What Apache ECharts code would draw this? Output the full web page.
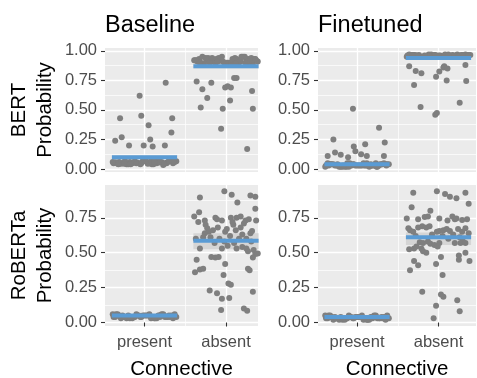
<!DOCTYPE html>
<html>
<head>
<meta charset="utf-8">
<script src="https://cdn.jsdelivr.net/npm/echarts@6/dist/echarts.min.js"></script>
<style>
html, body { margin: 0; padding: 0; background: #fff; }
#chart { width: 477px; height: 378px; }
</style>
</head>
<body>
<div id="chart"></div>
<script>
const connectives = ['present', 'absent'];
const conditions = ['Baseline', 'Finetuned'];
const models = ['BERT', 'RoBERTa'];
const yTicks = [0, 0.25, 0.5, 0.75, 1];
const yMinorTicks = [0.125, 0.375, 0.625, 0.875];
const xTicks = [1, 2];
const xMinorTicks = [1.5];

// means (blue bars) and interval bands, per connective
const bertBaseMean = [0.10, 0.87];
const bertFineMean = [0.04, 0.94];
const robertaBaseMean = [0.05, 0.585];
const robertaFineMean = [0.04, 0.61];
const bertBaseBand = [[0.085, 0.115], [0.85, 0.895]];
const bertFineBand = [[0.03, 0.05], [0.925, 0.955]];
const robertaBaseBand = [[0.045, 0.055], [0.525, 0.64]];
const robertaFineBand = [[0.035, 0.045], [0.555, 0.645]];

// jitter offsets for the tightly packed clusters
const clusterJitter = [-0.38, -0.31, -0.22, -0.35, -0.12, -0.27, -0.05, -0.18, 0.02, -0.33, 0.09, -0.09, 0.15, -0.24, 0.21, 0.04, 0.28, -0.15, 0.33, 0.11, 0.37, -0.02, 0.25, -0.29, 0.18, -0.36, 0.06, 0.31, -0.2, 0.13, 0.39, -0.07, 0.23, -0.13, 0.35, 0.0, -0.25, 0.17, -0.39, 0.27, 0.08, -0.32, 0.19, -0.1, 0.3, -0.17, 0.12, 0.36, -0.04, 0.24];

// cluster values
const bertBasePresentCluster = [0.05, 0.06, 0.04, 0.055, 0.065, 0.05, 0.04, 0.06, 0.065, 0.045, 0.04, 0.055, 0.05, 0.07, 0.06, 0.045, 0.055, 0.05, 0.065, 0.04, 0.06, 0.07, 0.05, 0.045, 0.065, 0.055, 0.05, 0.07, 0.04, 0.06, 0.065, 0.05, 0.035, 0.055, 0.05, 0.065, 0.045, 0.07, 0.06, 0.05, 0.065, 0.04, 0.055, 0.05, 0.07, 0.04, 0.06, 0.065, 0.05, 0.045];
const bertBaseAbsentCluster = [0.92, 0.90, 0.94, 0.91, 0.93, 0.89, 0.95, 0.92, 0.90, 0.93, 0.91, 0.94, 0.88, 0.92, 0.95, 0.90, 0.93, 0.91, 0.89, 0.94, 0.92, 0.90, 0.93, 0.95, 0.91, 0.92, 0.88, 0.94, 0.90, 0.93, 0.91, 0.92, 0.95, 0.89, 0.93, 0.90, 0.94, 0.91, 0.92, 0.88, 0.93, 0.90, 0.95, 0.91, 0.92, 0.94, 0.89, 0.93, 0.91, 0.90];
const bertFinePresentCluster = [0.03, 0.04, 0.02, 0.03, 0.05, 0.03, 0.04, 0.02, 0.03, 0.04, 0.03, 0.05, 0.02, 0.04, 0.03, 0.03, 0.04, 0.02, 0.05, 0.03, 0.04, 0.03, 0.02, 0.04, 0.03, 0.05, 0.03, 0.04, 0.02, 0.03, 0.04, 0.03, 0.05, 0.02, 0.04, 0.03, 0.03, 0.04, 0.02, 0.03, 0.05, 0.04, 0.03, 0.02, 0.04, 0.03, 0.05, 0.03, 0.04, 0.02];
const bertFineAbsentCluster = [0.96, 0.965, 0.95, 0.96, 0.97, 0.96, 0.965, 0.95, 0.96, 0.965, 0.955, 0.97, 0.95, 0.965, 0.96, 0.955, 0.965, 0.95, 0.97, 0.96, 0.965, 0.955, 0.95, 0.965, 0.96, 0.97, 0.955, 0.965, 0.95, 0.96, 0.965, 0.955, 0.97, 0.95, 0.965, 0.96, 0.955, 0.965, 0.95, 0.96, 0.97, 0.965, 0.955, 0.95, 0.965, 0.96, 0.97, 0.955, 0.965, 0.95];
const robertaBasePresentCluster = [0.04, 0.05, 0.03, 0.06, 0.04, 0.05, 0.04, 0.03, 0.05, 0.06, 0.04, 0.05, 0.03, 0.04, 0.06, 0.05, 0.04, 0.03, 0.05, 0.04, 0.06, 0.05, 0.04, 0.03, 0.05, 0.04, 0.06, 0.04, 0.05, 0.03, 0.04, 0.05, 0.06, 0.04, 0.03, 0.05, 0.04, 0.05, 0.06, 0.04, 0.03, 0.05, 0.04, 0.06, 0.05, 0.04, 0.03, 0.05, 0.04, 0.05];
const robertaFinePresentCluster = [0.03, 0.04, 0.02, 0.05, 0.03, 0.04, 0.03, 0.02, 0.04, 0.05, 0.03, 0.04, 0.02, 0.03, 0.05, 0.04, 0.03, 0.02, 0.04, 0.03, 0.05, 0.04, 0.03, 0.02, 0.04, 0.03, 0.05, 0.03, 0.04, 0.02, 0.03, 0.04, 0.05, 0.03, 0.02, 0.04, 0.03, 0.04, 0.05, 0.03, 0.02, 0.04, 0.03, 0.05, 0.04, 0.03, 0.02, 0.04, 0.03, 0.04];

// scattered points: [jitter offset, probability]
const bertBasePresentSpread = [[-0.30, 0.43], [-0.36, 0.24], [-0.28, 0.27], [-0.19, 0.20], [-0.06, 0.62], [-0.04, 0.45], [0.05, 0.37], [0.07, 0.25], [-0.01, 0.20], [0.10, 0.19], [0.26, 0.73], [0.34, 0.43], [0.33, 0.31], [0.25, 0.20]];
const bertBaseAbsentSpread = [[-0.36, 0.74], [-0.29, 0.675], [-0.23, 0.60], [-0.31, 0.52], [-0.18, 0.73], [-0.06, 0.34], [-0.04, 0.51], [0.05, 0.58], [-0.01, 0.69], [0.02, 0.70], [0.06, 0.69], [0.10, 0.77], [0.13, 0.77], [0.32, 0.66], [0.33, 0.51], [0.26, 0.17]];
const bertFinePresentSpread = [[-0.36, 0.11], [-0.29, 0.25], [-0.27, 0.14], [-0.20, 0.12], [-0.11, 0.10], [-0.05, 0.51], [-0.04, 0.19], [-0.02, 0.15], [0.05, 0.125], [0.10, 0.21], [0.12, 0.11], [0.27, 0.35], [0.34, 0.225], [0.33, 0.11]];
const bertFineAbsentSpread = [[-0.36, 0.87], [-0.28, 0.83], [-0.21, 0.81], [-0.30, 0.71], [-0.22, 0.525], [-0.03, 0.78], [0.01, 0.825], [0.06, 0.86], [0.07, 0.87], [0.11, 0.85], [0.10, 0.75], [-0.04, 0.46], [-0.02, 0.475], [0.26, 0.56], [0.33, 0.88], [0.34, 0.745]];
const robertaBaseAbsentSpread = [[-0.32, 0.895], [-0.02, 0.94], [0.07, 0.915], [0.14, 0.86], [-0.39, 0.76], [-0.33, 0.79], [-0.34, 0.72], [-0.26, 0.73], [-0.25, 0.70], [-0.23, 0.675], [-0.21, 0.65], [-0.26, 0.64], [-0.13, 0.75], [-0.11, 0.74], [-0.16, 0.66], [-0.19, 0.61], [-0.37, 0.60], [-0.28, 0.61], [-0.32, 0.53], [-0.05, 0.53], [-0.36, 0.45], [-0.18, 0.47], [-0.13, 0.465], [-0.09, 0.47], [-0.01, 0.42], [-0.38, 0.36], [-0.32, 0.38], [-0.28, 0.385], [-0.03, 0.34], [0.03, 0.28], [0.06, 0.27], [-0.20, 0.23], [-0.11, 0.21], [-0.05, 0.17], [0.04, 0.175], [-0.06, 0.09], [-0.01, 0.65], [0.01, 0.67], [0.06, 0.75], [0.13, 0.75], [0.09, 0.70], [0.13, 0.53], [0.18, 0.76], [0.22, 0.71], [0.24, 0.73], [0.28, 0.74], [0.30, 0.64], [0.32, 0.655], [0.20, 0.54], [0.25, 0.53], [0.27, 0.51], [0.34, 0.52], [0.36, 0.49], [0.33, 0.465], [0.39, 0.495], [0.30, 0.91], [0.36, 0.90], [0.36, 0.815], [0.37, 0.73], [0.29, 0.375], [0.27, 0.385], [0.33, 0.22], [0.22, 0.10], [0.26, 0.085], [-0.08, 0.60], [-0.02, 0.58], [0.05, 0.62], [0.10, 0.57], [0.16, 0.60], [0.20, 0.63], [-0.14, 0.57], [0.02, 0.55], [0.12, 0.66], [-0.10, 0.68], [0.18, 0.68], [0.08, 0.72], [-0.05, 0.73], [0.25, 0.60], [0.31, 0.58]];
const robertaFineAbsentSpread = [[-0.31, 0.93], [-0.02, 0.94], [0.08, 0.92], [0.14, 0.90], [0.22, 0.89], [0.33, 0.93], [0.37, 0.85], [-0.33, 0.825], [-0.10, 0.80], [-0.39, 0.745], [-0.25, 0.74], [-0.17, 0.755], [-0.13, 0.76], [0.01, 0.745], [0.11, 0.73], [0.17, 0.76], [0.20, 0.74], [0.22, 0.745], [0.29, 0.735], [0.35, 0.74], [-0.37, 0.675], [-0.35, 0.66], [-0.31, 0.65], [-0.25, 0.68], [-0.20, 0.69], [-0.15, 0.68], [-0.11, 0.69], [-0.02, 0.65], [0.01, 0.655], [0.06, 0.66], [0.10, 0.67], [0.14, 0.655], [0.24, 0.67], [0.29, 0.65], [0.33, 0.675], [0.37, 0.64], [-0.23, 0.575], [-0.19, 0.57], [-0.13, 0.58], [-0.10, 0.565], [-0.05, 0.555], [-0.01, 0.545], [0.01, 0.57], [-0.36, 0.525], [-0.30, 0.53], [-0.27, 0.545], [-0.21, 0.53], [-0.19, 0.51], [-0.15, 0.50], [0.03, 0.47], [-0.03, 0.42], [0.25, 0.48], [0.25, 0.45], [0.33, 0.50], [0.38, 0.44], [-0.30, 0.44], [-0.25, 0.41], [-0.35, 0.375], [0.05, 0.34], [-0.20, 0.22], [0.03, 0.20], [0.06, 0.185], [0.23, 0.16], [0.26, 0.08], [-0.03, 0.12], [-0.06, 0.03], [0.05, 0.62], [0.12, 0.60], [0.18, 0.63], [0.26, 0.61], [0.30, 0.58], [-0.28, 0.62], [-0.08, 0.63], [0.20, 0.57], [0.27, 0.57], [0.33, 0.57]];

const panels = [
    { row: 0, col: 0, mean: bertBaseMean, band: bertBaseBand,
      clusters: [bertBasePresentCluster, bertBaseAbsentCluster], spread: [bertBasePresentSpread, bertBaseAbsentSpread] },
    { row: 0, col: 1, mean: bertFineMean, band: bertFineBand,
      clusters: [bertFinePresentCluster, bertFineAbsentCluster], spread: [bertFinePresentSpread, bertFineAbsentSpread] },
    { row: 1, col: 0, mean: robertaBaseMean, band: robertaBaseBand,
      clusters: [robertaBasePresentCluster, []], spread: [[], robertaBaseAbsentSpread] },
    { row: 1, col: 1, mean: robertaFineMean, band: robertaFineBand,
      clusters: [robertaFinePresentCluster, []], spread: [[], robertaFineAbsentSpread] }
];

const FONT = '"Liberation Sans", Arial, Helvetica, sans-serif';
const POINT = '#7f7f7f';
const BLUE = '#5a9bd4';
const halfWidth = 0.4;

const colLeft = [105, 318];
const colWidth = [153, 158];
const rowTop = [48, 185];
const rowHeight = [124, 141];
const xRange = [[0.515, 2.393], [0.521, 2.46]];
const yRange = [[-0.025, 1.024], [-0.025, 0.985]];

const grid = [], xAxis = [], yAxis = [], series = [];

panels.forEach((p, i) => {
    grid.push({
        left: colLeft[p.col], top: rowTop[p.row], width: colWidth[p.col], height: rowHeight[p.row],
        show: true, backgroundColor: '#ebebeb', borderWidth: 0, containLabel: false, outerBoundsMode: 'none'
    });
    const bottomRow = p.row === 1;
    xAxis.push({
        type: 'value', gridIndex: i, min: xRange[p.col][0], max: xRange[p.col][1],
        axisLine: { show: false },
        axisTick: { show: bottomRow, customValues: xTicks, length: 4, lineStyle: { color: '#333', width: 1.1 } },
        axisLabel: {
            show: bottomRow, customValues: xTicks, margin: 8, fontSize: 16.5, color: '#4d4d4d', fontFamily: FONT,
            formatter: v => connectives[Math.round(v) - 1]
        },
        splitLine: { show: true, lineStyle: { color: '#fff', width: 1.3 } },
        name: bottomRow ? 'Connective' : '', nameLocation: 'middle', nameGap: 33,
        nameTextStyle: { fontSize: 20.5, color: '#000', fontFamily: FONT }
    });
    yAxis.push({
        type: 'value', gridIndex: i, min: yRange[p.row][0], max: yRange[p.row][1],
        axisLine: { show: false },
        axisTick: { show: true, customValues: yTicks, length: 4, lineStyle: { color: '#333', width: 1.1 } },
        axisLabel: { customValues: yTicks, margin: 8, fontSize: 16.5, color: '#4d4d4d', fontFamily: FONT, formatter: v => v.toFixed(2) },
        splitLine: { show: true, lineStyle: { color: '#fff', width: 1.3 } },
        name: p.col === 0 ? models[p.row] + '\nProbability' : '', nameLocation: 'middle', nameRotate: 90, nameGap: 47,
        nameTextStyle: { fontSize: 20.5, lineHeight: 26, color: '#000', fontFamily: FONT, align: 'center' }
    });
});

// minor grid lines on extra hidden axes
panels.forEach((p, i) => {
    xAxis.push({
        type: 'value', gridIndex: i, position: 'top', min: xRange[p.col][0], max: xRange[p.col][1],
        axisLine: { show: false }, axisTick: { show: false, customValues: xMinorTicks },
        axisLabel: { show: false, customValues: xMinorTicks },
        splitLine: { show: true, lineStyle: { color: '#fff', width: 0.7 } }
    });
    yAxis.push({
        type: 'value', gridIndex: i, position: 'right', min: yRange[p.row][0], max: yRange[p.row][1],
        axisLine: { show: false }, axisTick: { show: false, customValues: yMinorTicks },
        axisLabel: { show: false, customValues: yMinorTicks },
        splitLine: { show: true, lineStyle: { color: '#fff', width: 0.7 } }
    });
});

panels.forEach((p, i) => {
    series.push({
        type: 'custom', xAxisIndex: i, yAxisIndex: i, z: 1, silent: true,
        data: p.band.map((b, k) => [k + 1, b[0], b[1]]),
        renderItem: (params, api) => {
            const c = api.value(0);
            const a = api.coord([c - halfWidth, api.value(2)]);
            const b = api.coord([c + halfWidth, api.value(1)]);
            return { type: 'rect', shape: { x: a[0], y: a[1], width: b[0] - a[0], height: b[1] - a[1] }, style: { fill: '#d5d5d5' } };
        }
    });
    const pts = [];
    [0, 1].forEach(k => {
        p.clusters[k].forEach((v, j) => pts.push([k + 1 + clusterJitter[j % clusterJitter.length], v]));
        p.spread[k].forEach(d => pts.push([k + 1 + d[0], d[1]]));
    });
    series.push({
        type: 'scatter', xAxisIndex: i, yAxisIndex: i, z: 2, silent: true,
        symbolSize: 6, itemStyle: { color: POINT, opacity: 1 }, data: pts
    });
    p.mean.forEach((m, k) => {
        series.push({
            type: 'line', xAxisIndex: i, yAxisIndex: i, z: 3, silent: true, symbol: 'none',
            lineStyle: { color: BLUE, width: 4, cap: 'butt' },
            data: [[k + 1 - halfWidth, m], [k + 1 + halfWidth, m]]
        });
    });
});

const chart = echarts.init(document.getElementById('chart'), null, { renderer: 'canvas' });
chart.setOption({
    animation: false,
    title: conditions.map((c, k) => ({
        text: c, left: colLeft[k], top: 14, padding: 0,
        textStyle: { fontSize: 23.5, fontWeight: 'normal', color: '#000', fontFamily: FONT }
    })),
    grid: grid,
    xAxis: xAxis,
    yAxis: yAxis,
    series: series
});
</script>
</body>
</html>
